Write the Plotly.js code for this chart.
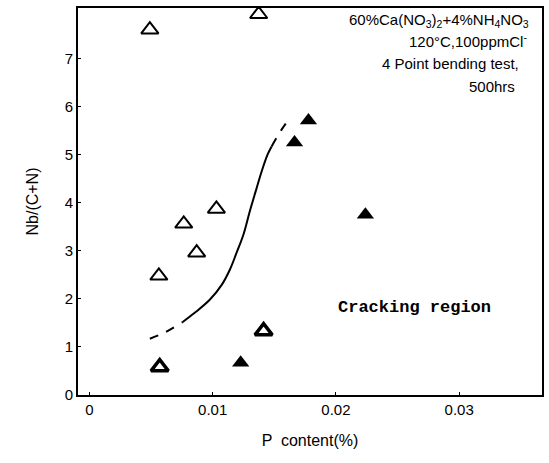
<!DOCTYPE html>
<html>
<head>
<meta charset="utf-8">
<script src="https://cdn.plot.ly/plotly-3.0.1.min.js"></script>
<style>html,body{margin:0;padding:0;background:#fff;}#chart{width:549px;height:463px;}</style>
</head>
<body>
<div id="chart"></div>
<script>
// Uncracked (open triangles)
const openX = [0.0049, 0.01373, 0.0103, 0.00765, 0.0087, 0.00563];
const openY = [7.60, 7.92, 3.87, 3.56, 2.96, 2.48];
// Partially cracked (half-filled triangles)
const halfX = [0.01413, 0.0057];
const halfY = [1.33, 0.58];
// Cracked (filled triangles)
const fillX = [0.01227, 0.01664, 0.01777, 0.02239];
const fillY = [0.67, 5.25, 5.71, 3.75];
// Boundary curve
const dashLowX = [0.0049, 0.00611, 0.00757];
const dashLowY = [1.17, 1.30, 1.52];
const solidX = [0.00757, 0.00854, 0.00976, 0.01073, 0.01138, 0.01194, 0.01251, 0.0130, 0.01348, 0.01397, 0.01445, 0.01478];
const solidY = [1.52, 1.71, 1.98, 2.29, 2.60, 2.96, 3.35, 3.81, 4.23, 4.65, 5.00, 5.17];
const dashHighX = [0.01478, 0.01559, 0.01623];
const dashHighY = [5.17, 5.52, 5.75];

const xTickVals = [0, 0.01, 0.02, 0.03];
const xTickText = ["0", "0.01", "0.02", "0.03"];
const yTickVals = [0, 1, 2, 3, 4, 5, 6, 7];

const noteLines = [
  "60%Ca(NO<sub>3</sub>)<sub>2</sub>+4%NH<sub>4</sub>NO<sub>3</sub>",
  "120°C,100ppmCl<sup>-</sup>",
  "4 Point bending test,",
  "500hrs"
];
const notePos = [[0.977, 0.968], [0.972, 0.915], [0.955, 0.857], [0.947, 0.797]];

const black = "#000";
const traces = [
  {x: dashLowX, y: dashLowY, mode: "lines", line: {color: black, width: 2, dash: "dash", shape: "spline"}, hoverinfo: "skip"},
  {x: solidX, y: solidY, mode: "lines", line: {color: black, width: 2, shape: "spline", smoothing: 1}, hoverinfo: "skip"},
  {x: dashHighX, y: dashHighY, mode: "lines", line: {color: black, width: 2, dash: "dash", shape: "spline"}, hoverinfo: "skip"},
  {x: openX, y: openY, mode: "markers", marker: {symbol: "triangle-up-open", size: 15, color: black, line: {width: 2, color: black}}},
  {x: halfX, y: halfY, mode: "markers", marker: {symbol: "triangle-up-open", size: 15, color: black, line: {width: 3.5, color: black}}},
  {x: fillX, y: fillY, mode: "markers", marker: {symbol: "triangle-up", size: 15, color: black}}
];

const annotations = noteLines.map((t, i) => ({
  text: t, xref: "paper", yref: "paper", x: notePos[i][0], y: notePos[i][1],
  xanchor: "right", yanchor: "middle", showarrow: false,
  font: {family: "Liberation Sans, Arial, sans-serif", size: 15, color: black}
}));
annotations.push({
  text: "<b>Cracking region</b>", xref: "paper", yref: "paper", x: 0.725, y: 0.225,
  xanchor: "center", yanchor: "middle", showarrow: false,
  font: {family: "Liberation Mono, Courier New, monospace", size: 17, color: black}
});

const layout = {
  width: 549, height: 463,
  margin: {l: 78, r: 7, t: 8, b: 68},
  paper_bgcolor: "#fff", plot_bgcolor: "#fff",
  showlegend: false,
  font: {family: "Liberation Sans, Arial, sans-serif", size: 15, color: black},
  xaxis: {
    range: [-0.00093, 0.03672], tickvals: xTickVals, ticktext: xTickText,
    ticks: "inside", ticklen: 3, tickcolor: black, showgrid: false, zeroline: false,
    showline: true, linecolor: black, linewidth: 2, mirror: true,
    tickfont: {size: 15, color: black},
    title: {text: "P  content(%)", font: {size: 16, color: black}, standoff: 18}
  },
  yaxis: {
    range: [0, 8.05], tickvals: yTickVals,
    ticks: "inside", ticklen: 3, tickcolor: black, showgrid: false, zeroline: false,
    showline: true, linecolor: black, linewidth: 2, mirror: true,
    tickfont: {size: 15, color: black},
    title: {text: "Nb/(C+N)", font: {size: 16, color: black}, standoff: 22}
  },
  annotations: annotations
};

Plotly.newPlot("chart", traces, layout, {displayModeBar: false, staticPlot: true});
</script>
</body>
</html>
